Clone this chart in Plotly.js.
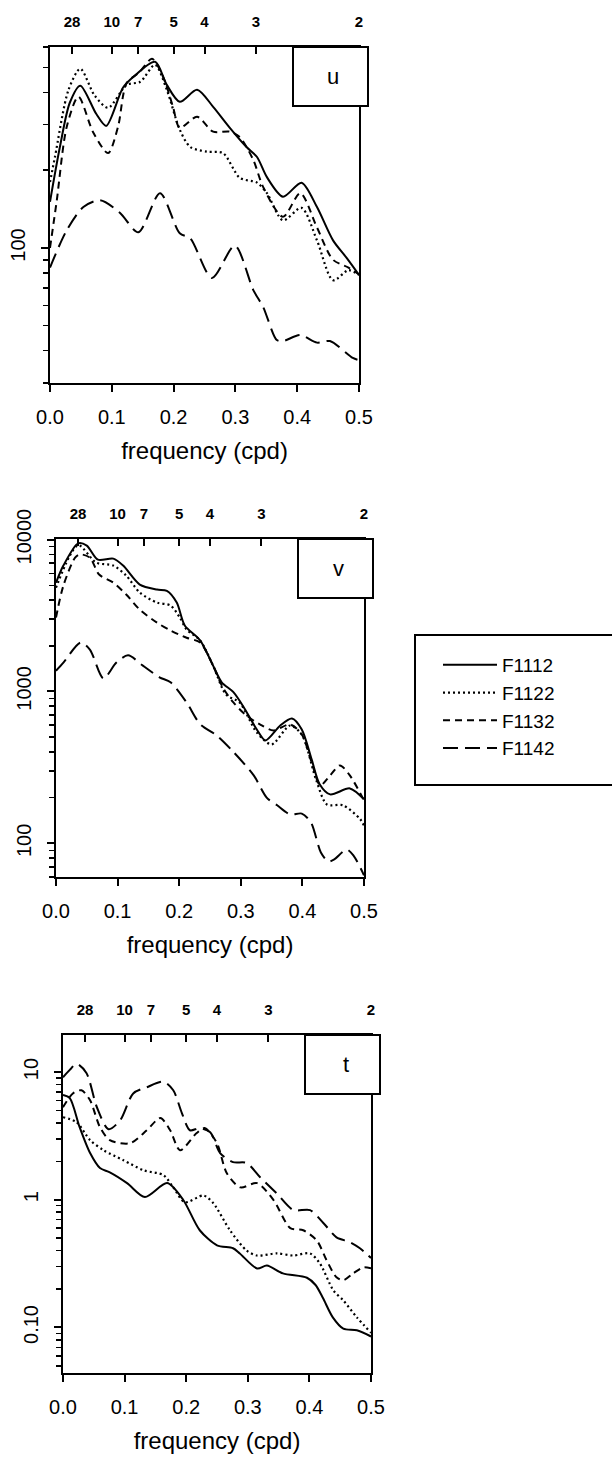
<!DOCTYPE html>
<html><head><meta charset="utf-8">
<script src="https://cdn.plot.ly/plotly-3.0.1.min.js"></script>
<style>html,body{margin:0;padding:0;background:#fff}</style>
</head><body><div id="chart" style="width:612px;height:1460px"></div>
<script>
// ---------- data ----------
const seriesNames = ['F1112', 'F1122', 'F1132', 'F1142'];
const periodTicks = [28, 10, 7, 5, 4, 3, 2];          // days (top axis labels)
const freqTicks = [0, 0.1, 0.2, 0.3, 0.4, 0.5];
const freqTickText = ['0.0', '0.1', '0.2', '0.3', '0.4', '0.5'];

// panel u
const uF1112f = [0, 0.016, 0.032, 0.049, 0.075, 0.091, 0.118, 0.135, 0.170, 0.189, 0.210, 0.238, 0.264, 0.291, 0.318, 0.335, 0.351, 0.377, 0.407, 0.432, 0.458, 0.480, 0.5];
const uF1112s = [151, 246, 365, 425, 330, 297, 417, 460, 526, 428, 368, 410, 352, 292, 246, 225, 188, 158, 179, 144, 107, 91.5, 78.6];
const uF1122f = [0, 0.008, 0.030, 0.049, 0.072, 0.094, 0.124, 0.146, 0.170, 0.189, 0.210, 0.227, 0.254, 0.280, 0.307, 0.335, 0.351, 0.377, 0.407, 0.432, 0.458, 0.483, 0.5];
const uF1122s = [180, 225, 410, 494, 390, 349, 428, 440, 512, 410, 287, 246, 236, 233, 187, 179, 163, 128, 143, 107, 75, 82, 78.6];
const uF1132f = [0, 0.011, 0.027, 0.046, 0.070, 0.094, 0.110, 0.124, 0.145, 0.165, 0.183, 0.199, 0.210, 0.238, 0.264, 0.291, 0.307, 0.329, 0.345, 0.377, 0.405, 0.432, 0.458, 0.483, 0.5];
const uF1132s = [100, 153, 294, 385, 280, 233, 294, 435, 480, 540, 460, 352, 292, 322, 282, 282, 269, 219, 172, 132, 163, 120, 90, 84, 79];
const uF1142f = [0, 0.027, 0.054, 0.081, 0.113, 0.143, 0.178, 0.210, 0.227, 0.262, 0.299, 0.329, 0.345, 0.367, 0.377, 0.405, 0.432, 0.453, 0.490, 0.5];
const uF1142s = [84, 117, 144, 153, 137, 115, 163, 114, 109, 76.5, 102, 68.7, 59, 44, 43.6, 46, 43, 43.6, 37.5, 36.8];

// panel v
const vF1112f = [0, 0.012, 0.036, 0.050, 0.068, 0.093, 0.109, 0.136, 0.164, 0.180, 0.196, 0.209, 0.234, 0.255, 0.269, 0.288, 0.307, 0.326, 0.340, 0.364, 0.383, 0.399, 0.415, 0.428, 0.445, 0.477, 0.5];
const vF1112s = [5210, 6750, 9460, 9140, 7380, 7500, 6750, 5060, 4690, 4600, 3850, 2720, 2170, 1480, 1150, 990, 762, 562, 476, 597, 664, 562, 357, 245, 210, 230, 195];
const vF1122f = [0, 0.036, 0.065, 0.093, 0.114, 0.136, 0.164, 0.186, 0.201, 0.212, 0.234, 0.255, 0.276, 0.298, 0.326, 0.350, 0.380, 0.399, 0.422, 0.440, 0.466, 0.494, 0.5];
const vF1122s = [4830, 9180, 7060, 6750, 5800, 4480, 3850, 3680, 3070, 2560, 2170, 1480, 955, 847, 537, 448, 597, 520, 264, 180, 178, 144, 131];
const vF1132f = [0, 0.012, 0.031, 0.039, 0.055, 0.070, 0.093, 0.114, 0.136, 0.164, 0.186, 0.212, 0.234, 0.255, 0.271, 0.288, 0.307, 0.331, 0.353, 0.380, 0.399, 0.415, 0.429, 0.445, 0.461, 0.477, 0.5];
const vF1132s = [3070, 4980, 7620, 8000, 7620, 5890, 5210, 4350, 3460, 2840, 2520, 2260, 2100, 1480, 1060, 847, 706, 607, 554, 607, 521, 341, 241, 280, 326, 280, 192];
const vF1142f = [0, 0.012, 0.040, 0.055, 0.077, 0.098, 0.117, 0.141, 0.168, 0.186, 0.212, 0.234, 0.261, 0.288, 0.321, 0.342, 0.359, 0.380, 0.399, 0.414, 0.430, 0.442, 0.451, 0.472, 0.483, 0.5];
const vF1142s = [1370, 1550, 2100, 1890, 1220, 1550, 1730, 1480, 1240, 1150, 847, 610, 513, 400, 280, 200, 178, 155, 157, 137, 87, 76, 78, 91, 83, 61.6];

// panel t
const tF1112f = [0, 0.011, 0.027, 0.044, 0.060, 0.076, 0.104, 0.133, 0.169, 0.195, 0.222, 0.250, 0.276, 0.287, 0.315, 0.331, 0.357, 0.396, 0.410, 0.422, 0.438, 0.455, 0.477, 0.5];
const tF1112s = [6.6, 6.25, 3.7, 2.32, 1.77, 1.64, 1.35, 1.05, 1.35, 1.0, 0.577, 0.44, 0.417, 0.38, 0.29, 0.305, 0.265, 0.245, 0.215, 0.17, 0.12, 0.098, 0.095, 0.085];
const tF1122f = [0, 0.022, 0.044, 0.066, 0.098, 0.131, 0.163, 0.179, 0.198, 0.228, 0.244, 0.271, 0.298, 0.315, 0.347, 0.374, 0.401, 0.417, 0.439, 0.455, 0.477, 0.5];
const tF1122s = [4.43, 4.05, 2.93, 2.44, 2.04, 1.7, 1.56, 1.25, 0.955, 1.08, 0.94, 0.577, 0.4, 0.366, 0.38, 0.366, 0.38, 0.317, 0.195, 0.163, 0.12, 0.091];
const tF1132f = [0, 0.016, 0.030, 0.044, 0.060, 0.076, 0.109, 0.136, 0.158, 0.174, 0.190, 0.217, 0.230, 0.250, 0.266, 0.288, 0.315, 0.342, 0.369, 0.390, 0.412, 0.428, 0.444, 0.455, 0.471, 0.488, 0.5];
const tF1132s = [5.3, 6.8, 7.2, 6.0, 3.7, 2.93, 2.77, 3.5, 4.36, 3.5, 2.44, 3.33, 3.64, 2.77, 1.61, 1.25, 1.35, 0.99, 0.6, 0.577, 0.48, 0.335, 0.247, 0.234, 0.265, 0.296, 0.29];
const tF1142f = [0, 0.011, 0.022, 0.038, 0.055, 0.074, 0.093, 0.114, 0.136, 0.163, 0.179, 0.193, 0.206, 0.222, 0.239, 0.255, 0.276, 0.298, 0.320, 0.347, 0.374, 0.401, 0.423, 0.444, 0.466, 0.482, 0.5];
const tF1142s = [9.1, 10.4, 11.6, 9.84, 5.3, 3.57, 4.2, 6.8, 7.6, 8.4, 7.2, 4.77, 3.5, 3.64, 3.38, 2.32, 1.97, 1.94, 1.5, 1.12, 0.83, 0.83, 0.655, 0.508, 0.465, 0.417, 0.35];

const panelLabels = ['u', 'v', 't'];

// ---------- styling ----------
const FONT = 'Liberation Sans, Arial, Helvetica, sans-serif';
const W = 612, H = 1460;
const px = v => v / W;
const py = v => 1 - v / H;
const dashes = ['solid', '2px,3px', '7px,5px', '15px,7px'];
const lineWidths = [2, 2.2, 2, 2];

const panels = [
  { f: [uF1112f, uF1122f, uF1132f, uF1142f], s: [uF1112s, uF1122s, uF1132s, uF1142s],
    x0: 50, x1: 359, top: 47, bot: 383, yr: [30, 600], major: [100], majorText: ['100'], box: [293, 368, 47, 106] },
  { f: [vF1112f, vF1122f, vF1132f, vF1142f], s: [vF1112s, vF1122s, vF1132s, vF1142s],
    x0: 56, x1: 364, top: 539, bot: 877, yr: [60, 10100], major: [100, 1000, 10000], majorText: ['100', '1000', '10000'], box: [298, 373, 539, 598] },
  { f: [tF1112f, tF1122f, tF1132f, tF1142f], s: [tF1112s, tF1122s, tF1132s, tF1142s],
    x0: 63, x1: 371, top: 1035, bot: 1373, yr: [0.044, 19.5], major: [0.1, 1, 10], majorText: ['0.10', '1', '10'], box: [305, 380, 1035, 1094] }
];

function minorVals(lo, hi) {
  const out = [];
  for (let e = -3; e <= 5; e++) {
    for (let k = 2; k <= 9; k++) {
      const v = k * Math.pow(10, e);
      if (v >= lo && v <= hi) out.push(v);
    }
  }
  return out;
}

const traces = [];
const layout = {
  width: W, height: H,
  margin: { l: 0, r: 0, t: 0, b: 0 },
  paper_bgcolor: '#fff', plot_bgcolor: '#fff',
  font: { family: FONT, color: '#000' },
  showlegend: true,
  legend: {
    x: px(438), y: py(646), xanchor: 'left', yanchor: 'top',
    bgcolor: 'rgba(0,0,0,0)', borderwidth: 0,
    font: { family: FONT, size: 19, color: '#000' },
    itemwidth: 54, tracegroupgap: 0
  },
  shapes: [
    { type: 'rect', xref: 'paper', yref: 'paper', x0: px(415), x1: px(640), y0: py(785), y1: py(635),
      line: { color: '#000', width: 2 }, fillcolor: 'rgba(0,0,0,0)', layer: 'above' }
  ],
  annotations: []
};

panels.forEach((p, i) => {
  const n = i + 1;
  const xa = n === 1 ? 'x' : 'x' + n;
  const ya = n === 1 ? 'y' : 'y' + n;
  const xName = n === 1 ? 'xaxis' : 'xaxis' + n;
  const yName = n === 1 ? 'yaxis' : 'yaxis' + n;
  const topId = 'x' + (n + 3);
  const topName = 'xaxis' + (n + 3);
  const xDom = [px(p.x0), px(p.x1)];
  const yDom = [py(p.bot), py(p.top)];

  seriesNames.forEach((name, k) => {
    traces.push({
      type: 'scatter', mode: 'lines', name: name, legendgroup: name,
      showlegend: i === 0,
      x: p.f[k], y: p.s[k], xaxis: xa, yaxis: ya,
      line: { color: '#000', width: lineWidths[k], dash: dashes[k], shape: 'spline', smoothing: 0.8 },
      hoverinfo: 'skip'
    });
  });
  // empty trace so the top (period) axis gets its subplot
  traces.push({ type: 'scatter', mode: 'lines', x: [], y: [], xaxis: topId, yaxis: ya, showlegend: false, hoverinfo: 'skip' });

  layout[xName] = {
    domain: xDom, anchor: ya, range: [0, 0.5], automargin: false,
    tickmode: 'array', tickvals: freqTicks, ticktext: freqTickText,
    ticks: 'outside', ticklen: 7, tickwidth: 2, tickcolor: '#000',
    showline: true, mirror: true, linewidth: 2, linecolor: '#000', showgrid: false, zeroline: false,
    tickfont: { family: FONT, size: 20, color: '#000' }, ticklabelstandoff: 8,
    title: { text: 'frequency (cpd)', font: { family: FONT, size: 24, color: '#000' }, standoff: 15 }
  };
  layout[topName] = {
    overlaying: xa, anchor: ya, side: 'top', range: [0, 0.5], automargin: false,
    tickmode: 'array', tickvals: periodTicks.map(d => 1 / d), ticktext: periodTicks.map(String),
    ticks: 'inside', ticklen: 7, tickwidth: 2, tickcolor: '#000',
    showline: true, linewidth: 2, linecolor: '#000', showgrid: false, zeroline: false,
    tickfont: { family: FONT, size: 15, color: '#000', weight: 'bold' }, ticklabelstandoff: 12
  };
  layout[yName] = {
    domain: yDom, anchor: xa, type: 'log', automargin: false,
    range: [Math.log10(p.yr[0]), Math.log10(p.yr[1])],
    tickmode: 'array', tickvals: p.major, ticktext: p.majorText, tickangle: -90,
    ticks: 'outside', ticklen: 7, tickwidth: 2, tickcolor: '#000',
    minor: { tickmode: 'array', tickvals: minorVals(p.yr[0], p.yr[1]), ticks: 'outside', ticklen: 5, tickwidth: 1.5, tickcolor: '#000', showgrid: false },
    showline: true, mirror: true, linewidth: 2, linecolor: '#000', showgrid: false, zeroline: false,
    tickfont: { family: FONT, size: 20, color: '#000' }, ticklabelstandoff: 8
  };

  const b = p.box;
  layout.shapes.push({
    type: 'rect', xref: 'paper', yref: 'paper', x0: px(b[0]), x1: px(b[1]), y0: py(b[3]), y1: py(b[2]),
    line: { color: '#000', width: 2 }, fillcolor: '#fff', layer: 'above'
  });
  layout.annotations.push({
    xref: 'paper', yref: 'paper', x: px((b[0] + b[1]) / 2 + 3), y: py((b[2] + b[3]) / 2),
    text: panelLabels[i], showarrow: false, xanchor: 'center', yanchor: 'middle',
    font: { family: FONT, size: 22, color: '#000' }
  });
});

Plotly.newPlot('chart', traces, layout, { staticPlot: true, displayModeBar: false });
</script>
</body></html>
